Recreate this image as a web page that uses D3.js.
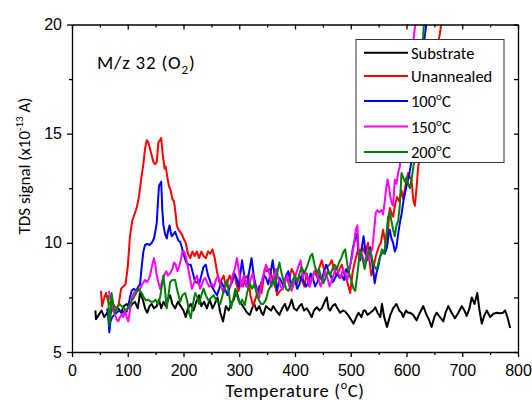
<!DOCTYPE html>
<html><head><meta charset="utf-8">
<script src="https://cdn.jsdelivr.net/npm/d3@7"></script>
<style>
body{margin:0;background:#fff;}
svg{display:block;font-family:Carlito,Calibri,Lato,sans-serif;}
</style></head>
<body><svg id="chart" width="532" height="401"></svg>
<script>
const seriesNames = ["Substrate","Unannealed","100°C","150°C","200°C"];
const seriesColors = ["#000000","#ff0000","#0000ff","#ff00ff","#008000"];
const xTicks = [0,100,200,300,400,500,600,700,800];
const xMinor = [50,150,250,350,450,550,650,750];
const yTicks = [5,10,15,20];
const yMinor = [7.5,12.5,17.5];

const substrate = [[42,6.9],[43,6.5],[48,6.7],[53,6.9],[58,6.6],[63,6.8],[68,6.7],[73,7.0],[78,6.9],[83,7.0],[88,6.8],[93,7.1],[98,7.2],[103,7.0],[108,7.2],[113,7.3],[118,7.0],[122,7.7],[127,7.4],[131,7.0],[135,6.8],[139,7.1],[143,7.2],[147,7.0],[152,7.1],[156,7.4],[160,7.0],[164,7.3],[168,7.1],[172,7.4],[176,7.6],[180,7.2],[185,7.0],[190,7.3],[195,7.1],[200,6.9],[204,6.6],[208,7.0],[213,7.2],[218,6.9],[223,7.3],[228,7.6],[232,7.1],[237,7.3],[242,7.0],[247,7.4],[252,7.0],[256,7.2],[261,7.5],[266,6.8],[271,6.4],[276,7.1],[281,6.9],[285,7.2],[290,7.4],[295,7.8],[300,7.3],[304,7.2],[309,7.0],[314,6.8],[319,6.7],[323,7.0],[327,7.2],[331,6.9],[336,7.1],[340,6.8],[343,6.7],[348,7.1],[352,7.0],[357,6.9],[361,7.1],[366,6.9],[372,6.7],[377,7.0],[382,7.2],[386,6.9],[390,7.1],[394,7.4],[398,7.0],[403,6.9],[408,7.1],[412,7.2],[416,6.9],[421,7.0],[426,6.8],[430,6.6],[434,6.9],[439,7.05],[444,6.9],[448,7.0],[453,7.3],[457,7.5],[460,7.0],[463,6.9],[467,7.1],[472,7.2],[476,7.0],[481,6.8],[486,6.9],[490,6.85],[495,6.7],[500,6.5],[505,6.3],[510,6.6],[514,6.8],[519,6.6],[523,6.9],[526,6.9],[530,6.7],[535,6.8],[540,6.9],[544,7.05],[548,6.8],[553,6.6],[556,7.2],[560,6.6],[565,6.15],[571,6.7],[576,7.0],[582,7.2],[587,6.9],[591,6.8],[594,6.6],[599,6.9],[603,6.8],[606,6.8],[612,6.7],[618,6.45],[624,6.8],[630,7.1],[636,6.7],[640,6.5],[645,6.15],[650,6.6],[654,6.8],[660,6.6],[666,6.4],[670,6.8],[675,7.1],[681,6.8],[687,6.55],[693,6.8],[699,7.1],[704,6.9],[708,6.65],[713,7.0],[717,7.5],[722,7.2],[727,7.7],[731,6.9],[735,6.3],[740,6.7],[744,6.9],[750,6.6],[756,6.75],[762,6.8],[768,6.77],[773,6.8],[777,6.9],[781,6.6],[786,6.1]];

const unannealed = [[52,7.8],[54,7.1],[58,7.5],[61,7.7],[65,7.3],[68,7.2],[72,7.3],[76,7.1],[80,7.0],[84,7.2],[88,7.9],[92,8.0],[96,8.1],[100,8.9],[104,10.3],[108,11.0],[112,11.3],[116,11.6],[120,12.1],[124,12.9],[128,13.6],[131,14.3],[134,14.7],[137,14.6],[140,14.3],[143,14.0],[146,13.7],[149,13.6],[152,13.7],[155,14.6],[158,14.7],[160,14.8],[163,14.0],[166,13.4],[168,13.5],[171,13.0],[174,12.6],[177,12.4],[180,12.0],[183,11.9],[186,11.3],[188,10.8],[191,10.6],[194,10.5],[197,10.4],[200,10.2],[204,10.0],[208,9.5],[212,9.3],[216,9.6],[220,9.4],[224,9.6],[228,9.3],[232,9.6],[236,9.4],[240,9.3],[244,9.6],[248,9.5],[252,9.7],[256,9.3],[260,8.7],[264,8.2],[268,8.3],[272,8.5],[276,8.0],[280,8.3],[283,8.5],[287,8.2],[291,8.6],[295,8.1],[299,7.8],[303,8.3],[307,8.0],[311,8.4],[316,8.5],[320,7.6],[325,7.1],[330,7.5],[335,8.0],[340,7.7],[346,8.8],[350,8.7],[355,8.8],[360,8.3],[364,8.1],[368,7.6],[373,7.8],[378,7.9],[383,8.4],[388,8.2],[394,8.8],[398,8.6],[403,8.1],[408,8.5],[412,8.3],[417,8.0],[421,8.6],[426,8.0],[430,8.4],[435,8.7],[440,8.4],[444,8.9],[448,9.2],[452,8.8],[457,8.9],[462,9.0],[466,9.2],[470,8.8],[475,8.5],[480,8.8],[484,9.0],[489,8.5],[494,8.2],[499,7.7],[503,8.6],[508,9.2],[512,9.6],[517,9.3],[521,9.8],[526,9.5],[531,10.0],[534,9.1],[537,8.5],[541,8.9],[545,9.4],[550,9.8],[554,10.0],[558,10.6],[562,10.0],[565,9.8],[568,11.0],[570,11.6],[574,11.3],[576,11.2],[580,11.8],[583,12.1],[587,11.9],[591,12.4],[594,12.0],[598,12.6],[603,13.2],[606,13.0],[609,12.9],[612,12.0],[615,11.7],[618,12.5],[621,13.5],[625,14.0],[630,14.4],[636,15.5],[642,16.8],[648,17.8],[654,18.8],[660,19.6],[665,20.5]];

const annealed100 = [[63,7.0],[65,6.6],[67,5.9],[69,6.4],[72,6.6],[76,6.7],[80,6.8],[85,6.9],[90,6.8],[95,6.9],[98,6.85],[101,7.1],[104,7.5],[107,7.8],[111,7.9],[115,7.8],[119,8.0],[122,8.1],[125,8.9],[128,9.6],[131,9.9],[135,9.95],[139,9.9],[143,10.0],[147,10.2],[150,10.6],[152,10.9],[154,11.8],[156,12.6],[158,12.7],[160,12.8],[162,11.5],[164,10.8],[167,10.4],[170,10.2],[172,10.5],[175,10.8],[177,10.5],[179,10.3],[182,10.4],[185,10.5],[188,10.3],[191,10.1],[194,10.05],[197,9.8],[201,9.4],[205,9.1],[209,9.0],[213,9.0],[217,8.6],[221,8.2],[225,8.2],[228,8.1],[232,8.5],[236,8.9],[240,9.0],[244,8.5],[247,8.3],[250,8.07],[255,7.8],[260,7.6],[264,7.9],[268,8.2],[272,8.0],[276,7.8],[279,7.6],[283,8.0],[287,8.2],[291,8.6],[295,8.4],[299,8.0],[302,8.6],[305,9.2],[309,8.5],[313,8.0],[318,8.7],[322,9.3],[326,8.5],[330,8.0],[333,7.6],[337,8.0],[340,8.2],[344,8.5],[348,8.4],[352,8.1],[356,8.6],[360,9.2],[364,8.4],[368,7.8],[372,8.4],[376,8.2],[380,8.0],[384,8.5],[388,8.7],[392,8.2],[396,8.0],[400,8.3],[404,7.9],[408,8.1],[412,8.5],[416,8.2],[420,8.0],[424,8.2],[428,8.6],[432,8.4],[436,8.0],[440,8.2],[444,8.5],[448,8.3],[452,8.7],[456,9.0],[460,8.7],[464,8.5],[468,8.2],[472,8.4],[476,8.6],[480,8.4],[484,8.5],[488,8.3],[492,8.8],[496,8.6],[500,9.1],[504,9.8],[508,10.2],[511,10.4],[514,9.5],[517,9.2],[520,9.8],[523,10.3],[526,9.7],[529,9.2],[532,9.6],[535,9.8],[538,9.2],[541,8.6],[543,8.15],[546,8.6],[550,9.0],[553,9.4],[557,9.6],[561,9.5],[565,9.8],[568,10.4],[570,10.6],[573,10.2],[576,10.0],[579,9.6],[582,9.8],[585,10.4],[588,10.9],[591,11.3],[595,12.0],[600,12.6],[604,13.0],[608,13.6],[613,14.6],[618,15.8],[623,17.2],[628,18.6],[633,19.5],[638,20.5]];

const annealed150 = [[66,7.8],[70,7.3],[74,6.9],[77,6.7],[80,6.5],[83,6.4],[86,6.6],[89,6.7],[92,6.6],[95,6.9],[98,6.6],[101,6.4],[104,6.9],[107,7.5],[111,7.7],[115,7.8],[119,7.8],[122,7.9],[126,8.1],[131,8.3],[134,8.2],[137,8.3],[140,8.5],[144,9.0],[147,9.3],[150,8.9],[152,8.5],[155,8.2],[158,7.9],[161,8.2],[165,8.5],[169,8.7],[172,8.5],[176,8.6],[180,8.8],[183,9.1],[186,9.0],[189,8.7],[192,8.9],[195,9.2],[198,9.6],[201,9.6],[204,9.4],[207,9.0],[210,8.6],[213,8.2],[215,7.9],[218,8.1],[221,8.3],[224,8.5],[227,8.2],[230,7.9],[233,8.1],[236,8.3],[239,8.4],[242,8.2],[246,8.0],[251,8.1],[255,8.0],[258,8.3],[262,8.5],[266,8.1],[269,7.9],[272,7.7],[276,8.1],[280,8.0],[284,8.0],[288,8.5],[292,8.8],[296,9.3],[300,8.6],[304,8.0],[308,8.5],[312,8.2],[316,7.9],[320,8.3],[324,8.6],[328,8.0],[332,7.8],[336,7.5],[340,8.2],[344,8.6],[348,9.0],[351,8.8],[354,8.6],[358,8.0],[362,8.4],[366,8.8],[370,8.4],[374,8.0],[378,7.9],[382,8.2],[386,8.5],[390,8.0],[394,7.8],[398,8.2],[402,8.6],[406,8.9],[410,9.2],[414,8.4],[418,8.7],[422,8.4],[426,8.0],[430,8.3],[434,8.6],[438,8.8],[442,8.4],[446,8.0],[450,8.3],[454,8.7],[458,8.4],[462,8.0],[466,8.3],[470,8.6],[474,8.9],[478,8.6],[482,8.4],[486,8.8],[490,8.6],[494,8.3],[498,8.9],[502,9.3],[506,10.0],[509,10.6],[512,10.8],[515,9.2],[518,9.6],[521,9.4],[524,9.0],[527,9.3],[530,9.6],[533,9.2],[536,9.5],[539,9.8],[542,10.6],[545,11.4],[548,11.5],[551,11.4],[555,11.5],[558,11.3],[561,11.9],[564,12.6],[566,12.9],[569,12.5],[571,12.1],[574,11.8],[576,11.7],[579,12.9],[582,12.7],[585,13.2],[588,13.5],[592,14.6],[597,15.9],[602,17.0],[607,18.2],[612,19.2],[617,20.3]];

const annealed200 = [[65,7.6],[67,6.2],[69,6.6],[71,7.7],[74,7.2],[77,6.8],[81,7.0],[85,7.2],[89,7.1],[93,7.0],[98,6.9],[102,7.1],[107,7.35],[111,7.5],[115,7.7],[119,7.9],[122,7.8],[125,7.7],[129,7.5],[133,7.35],[137,7.4],[141,7.3],[146,7.3],[150,7.4],[154,7.2],[158,7.5],[161,8.0],[164,8.5],[167,7.8],[170,7.0],[173,7.6],[176,8.2],[180,8.3],[185,8.3],[189,7.8],[194,7.3],[198,7.6],[203,7.7],[207,7.3],[210,6.8],[213,6.55],[217,7.2],[221,7.7],[225,7.5],[228,7.2],[232,7.6],[236,7.9],[240,7.6],[245,7.35],[250,7.5],[254,7.6],[258,7.4],[262,7.3],[266,7.2],[270,7.6],[274,8.0],[278,8.3],[282,7.6],[285,7.0],[289,7.4],[293,7.9],[297,7.5],[301,7.2],[305,7.4],[310,7.15],[314,7.7],[319,8.15],[323,7.9],[327,8.1],[331,7.7],[335,7.4],[339,7.2],[343,7.2],[348,7.4],[352,7.8],[356,8.0],[360,8.3],[364,8.0],[368,8.6],[372,9.1],[376,8.6],[380,8.2],[384,7.9],[388,7.8],[392,8.0],[396,8.3],[400,8.5],[404,8.2],[408,8.6],[412,8.9],[416,8.6],[420,8.8],[424,9.1],[428,9.4],[431,9.5],[435,9.0],[439,8.6],[443,8.8],[447,8.4],[451,8.15],[455,8.4],[459,8.7],[463,8.5],[467,8.8],[471,9.0],[475,8.8],[479,9.1],[483,9.3],[487,9.6],[490,9.7],[494,9.0],[498,8.5],[502,8.2],[505,7.9],[508,7.8],[512,8.6],[517,9.7],[521,9.3],[525,8.8],[529,9.3],[533,9.7],[537,9.4],[541,9.0],[545,8.8],[548,8.9],[552,9.3],[556,9.7],[560,9.5],[564,10.4],[567,11.2],[570,11.4],[573,11.0],[576,10.6],[579,10.3],[582,10.8],[585,11.0],[588,11.7],[591,13.2],[594,13.0],[597,12.8],[600,13.0],[603,12.7],[606,12.5],[609,12.9],[612,13.4],[616,14.2],[620,15.4],[624,17.0],[628,18.7],[631,19.9],[633,20.5]];

const allSeries = [substrate, unannealed, annealed100, annealed150, annealed200];

const svg = d3.select("#chart");
const x = d3.scaleLinear().domain([0,800]).range([72,518]);
const y = d3.scaleLinear().domain([5,20]).range([352,24.5]);
const tickFont = "16px";

svg.append("defs").append("clipPath").attr("id","clip")
  .append("rect").attr("x",72).attr("y",24.5).attr("width",446).attr("height",327.5);

const line = d3.line().x(d=>x(d[0])).y(d=>y(d[1]));
const gLines = svg.append("g").attr("clip-path","url(#clip)");
allSeries.forEach((s,i)=>{
  gLines.append("path").datum(s).attr("d",line)
    .attr("fill","none").attr("stroke",seriesColors[i])
    .attr("stroke-width",2).attr("stroke-linejoin","round");
});

function styleAxis(g){
  g.selectAll("path,line").attr("stroke","#000").attr("stroke-width",1.3);
  g.selectAll("text").attr("font-size",tickFont).attr("fill","#000").attr("font-family",null);
}
svg.append("g").attr("transform","translate(0,352)")
  .call(d3.axisBottom(x).tickValues(xTicks).tickSize(5).tickSizeOuter(0).tickFormat(d3.format("d")))
  .call(styleAxis)
  .call(g=>g.selectAll("text").attr("y",23.5).attr("dy",null));
svg.append("g").attr("transform","translate(0,352)")
  .call(d3.axisBottom(x).tickValues(xMinor).tickSize(3).tickFormat(""))
  .call(styleAxis).call(g=>g.select(".domain").remove());
svg.append("g").attr("transform","translate(0,24.5)")
  .call(d3.axisTop(x).tickValues(xTicks).tickSize(-5).tickSizeOuter(0).tickFormat(""))
  .call(styleAxis);
svg.append("g").attr("transform","translate(0,24.5)")
  .call(d3.axisTop(x).tickValues(xMinor).tickSize(-3).tickFormat(""))
  .call(styleAxis).call(g=>g.select(".domain").remove());
svg.append("g").attr("transform","translate(72,0)")
  .call(d3.axisLeft(y).tickValues(yTicks).tickSize(5).tickSizeOuter(0).tickPadding(5).tickFormat(d3.format("d")))
  .call(styleAxis);
svg.append("g").attr("transform","translate(72,0)")
  .call(d3.axisLeft(y).tickValues(yMinor).tickSize(3).tickFormat(""))
  .call(styleAxis).call(g=>g.select(".domain").remove());
svg.append("g").attr("transform","translate(518,0)")
  .call(d3.axisRight(y).tickValues(yTicks.concat(yMinor)).tickSize(-4).tickSizeOuter(0).tickFormat(""))
  .call(styleAxis);

const xt = svg.append("text").attr("x",295).attr("y",397).attr("text-anchor","middle")
  .attr("font-size","18.5px").attr("letter-spacing","0.7px").attr("fill","#000");
xt.append("tspan").text("Temperature (");
xt.append("tspan").attr("font-size","12px").attr("dy",-8).text("o");
xt.append("tspan").attr("dy",8).text("C)");

const yt = svg.append("text").attr("transform","translate(30,166) rotate(-90)")
  .attr("text-anchor","middle").attr("font-size","17px").attr("fill","#000");
yt.append("tspan").text("TDS signal (x10");
yt.append("tspan").attr("font-size","11px").attr("dy",-7).text("-13");
yt.append("tspan").attr("dy",7).text(" A)");

const ann = svg.append("text").attr("x",97).attr("y",69).attr("font-size","19px")
  .attr("letter-spacing","0.8px").attr("fill","#000");
ann.append("tspan").text("M/z 32 (O");
ann.append("tspan").attr("font-size","13px").attr("dy",5).text("2");
ann.append("tspan").attr("dy",-5).text(")");

const lg = svg.append("g");
lg.append("rect").attr("x",356).attr("y",39.5).attr("width",148).attr("height",123)
  .attr("fill","#fff").attr("stroke","#333").attr("stroke-width",1);
const rowY = [52.7,75.9,101,126.5,152];
seriesNames.forEach((n,i)=>{
  lg.append("line").attr("x1",364).attr("x2",408).attr("y1",rowY[i]).attr("y2",rowY[i])
    .attr("stroke",seriesColors[i]).attr("stroke-width",2);
  const t = lg.append("text").attr("x",411).attr("y",rowY[i]+6).attr("font-size","16.5px").attr("fill","#000");
  if(n.includes("°")){
    const parts = n.split("°");
    t.append("tspan").text(parts[0]);
    t.append("tspan").attr("font-size","11px").attr("dy",-7).text("o");
    t.append("tspan").attr("dy",7).text(parts[1]);
  } else t.text(n);
});
</script></body></html>
